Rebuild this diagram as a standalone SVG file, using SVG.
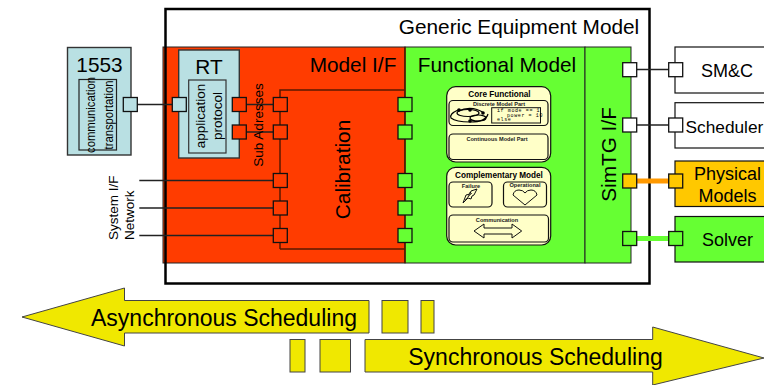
<svg xmlns="http://www.w3.org/2000/svg" width="764" height="385" viewBox="0 0 764 385">
<style>
text{font-family:"Liberation Sans",Arial,sans-serif;fill:#000;text-anchor:middle}
.t23{font-size:23px}.t21{font-size:20.800px}.t18{font-size:18px}.t13{font-size:13.500px}
.b{stroke:#111;stroke-width:1.2}
.blue{fill:#b9e0e3;stroke:#333;stroke-width:1.4}
.red{fill:#ff3c00}.grn{fill:#66ff33}.org{fill:#ffc800}.wht{fill:#fff}
.port{stroke:#111;stroke-width:1.3;width:14px;height:14px}
.link{fill:none;stroke:#222;stroke-width:1.3}
.dk{fill:none;stroke:#5a1800;stroke-width:1.5}
.yel{fill:#f0e800;stroke:#444;stroke-width:1}
.cream{fill:#ffffc8;stroke:#111;stroke-width:1.2}
.icon{fill:#ffffc8;stroke:#111;stroke-width:1}
.head{font-size:8.200px;font-weight:bold}
.tiny{font-size:5.600px;font-weight:bold;fill:#222}
.code{font-family:"Liberation Mono",monospace;font-size:5px;letter-spacing:.6px;text-anchor:start}
</style>
<g id="model-if"><rect x="163" y="47" width="242" height="216" class="red" stroke="#222" stroke-width="1"/><text x="353" y="72" class="t21">Model I/F</text></g>
<g id="functional-model"><rect x="405" y="47" width="180" height="216" class="grn" stroke="#222" stroke-width="1"/><text x="497" y="72" class="t21">Functional Model</text></g>
<g id="simtg-if"><rect x="585" y="47" width="46" height="216" class="grn" stroke="#222" stroke-width="1"/><text transform="translate(616 154.500) rotate(-90)" class="t21">SimTG I/F</text></g>
<g id="generic-equipment-model"><rect x="165.500" y="9" width="484" height="274.500" fill="none" stroke="#000" stroke-width="2.500"/><text x="519" y="34" class="t21">Generic Equipment Model</text></g>
<g id="bus-1553"><rect x="67.500" y="47.500" width="63.500" height="107.500" class="blue"/><text x="99.500" y="72" class="t21">1553</text><rect x="79" y="79.500" width="37.500" height="70.500" fill="none" stroke="#222" stroke-width="1.200"/><text transform="translate(95 115) rotate(-90)" font-size="13" textLength="76" lengthAdjust="spacingAndGlyphs">communication</text><text transform="translate(112.700 115) rotate(-90)" font-size="13" textLength="69" lengthAdjust="spacingAndGlyphs">transportation</text></g>
<g id="rt"><rect x="178.700" y="50" width="60.600" height="108" class="blue"/><text x="209" y="74" class="t21">RT</text><rect x="188.700" y="80" width="37.300" height="73" fill="none" stroke="#333" stroke-width="1.200"/><text transform="translate(205 116) rotate(-90)" class="t13">application</text><text transform="translate(221.700 116) rotate(-90)" class="t13">protocol</text></g>
<g id="connectors">
<path class="link" d="M137 104.500H172M246 104.500H273M246 132H273M139.300 180.500H273M139.300 208H273M139.300 235.500H273M637 69.500H669M637 125H669"/>
<path class="dk" d="M280 249V90H405M280 249H405M405 47V263"/>
<path fill="none" stroke="#ff9900" stroke-width="5" d="M637 181H669"/>
<path fill="none" stroke="#66ff33" stroke-width="5" d="M637 238.500H669"/>
</g>
<g id="sub-adresses"><text transform="translate(263 125) rotate(-90)" class="t13">Sub Adresses</text></g>
<g id="calibration"><text transform="translate(350 169.500) rotate(-90)" class="t21">Calibration</text></g>
<g id="system-if-network"><text transform="translate(118 240) rotate(-90)" class="t13" style="text-anchor:start">System I/F</text><text transform="translate(134 240) rotate(-90)" class="t13" style="text-anchor:start">Network</text></g>
<g id="core-functional">
<rect x="446.700" y="86.700" width="104" height="75.300" rx="9" class="cream" stroke-width="1.500"/>
<text x="499.500" y="96.700" class="head">Core Functional</text>
<rect x="449" y="100.500" width="99" height="25" rx="4" class="cream"/>
<text x="499" y="106" class="tiny">Discrete Model Part</text>
<g fill="none" stroke="#000" stroke-width="1.200"><path d="M458 110Q449 114 451 118Q456 122 470 122Q486 122 488 114"/><ellipse cx="468" cy="113" rx="11" ry="3.500"/><ellipse cx="478" cy="118" rx="8" ry="3"/><path d="M458 111Q472 105 484 113"/></g>
<circle cx="459" cy="110" r="1.800"/><circle cx="470" cy="110" r="1.800"/><circle cx="483" cy="113" r="1.800"/><circle cx="470" cy="121" r="1.800"/>
<rect x="491.700" y="107.700" width="48.800" height="15.300" fill="#ffffc8" stroke="#111"/>
<text x="497" y="112" class="code">if mode == 1</text><text x="507" y="116.500" class="code">power = 10</text><text x="497" y="121" class="code">else</text>
<rect x="449" y="134" width="99" height="25.500" rx="4" class="cream"/>
<text x="497" y="140.700" class="tiny">Continuous Model Part</text>
</g>
<g id="complementary-model">
<rect x="446.700" y="167.300" width="104" height="77.700" rx="9" class="cream" stroke-width="1.500"/>
<text x="499" y="178" class="head">Complementary Model</text>
<rect x="449" y="182" width="43" height="25" rx="4" class="cream"/>
<text x="471" y="187.700" class="tiny">Failure</text>
<path class="icon" d="M463 203L466 195L470 194L471 191L477 189L474 195L472 196L471 199L468 198Z"/>
<path d="M465 200L472 193M468 197L470 192" stroke="#111" stroke-width=".7" fill="none"/>
<rect x="503.500" y="182" width="43" height="25" rx="4" class="cream"/>
<text x="525" y="187" class="tiny">Operational</text>
<path class="icon" d="M525 205L513 195Q514 190 519 190Q523 190 525 193Q527 190 531 190Q536 190 537 195Z"/>
<rect x="449" y="215" width="99.500" height="27" rx="4" class="cream"/>
<text x="497" y="221.700" class="tiny">Communication</text>
<path class="icon" d="M474 231L484 224V228H512V224L521.700 231L512 238V234H484V238Z"/>
</g>
<g id="smc"><rect x="675" y="47" width="100" height="46" fill="#fff" stroke="#111" stroke-width="1.200"/><text x="727" y="76.700" class="t18">SM&amp;C</text></g>
<g id="scheduler"><rect x="675" y="102.700" width="100" height="45.300" fill="#fff" stroke="#111" stroke-width="1.200"/><text x="685.500" y="132.700" font-size="17.300" style="text-anchor:start">Scheduler</text></g>
<g id="physical-models"><rect x="675" y="161" width="100" height="45.500" class="org" stroke="#111" stroke-width="1.200"/><text x="727.500" y="180" class="t18">Physical</text><text x="727.500" y="201.700" class="t18">Models</text></g>
<g id="solver"><rect x="675" y="216.500" width="100" height="45.500" class="grn" stroke="#111" stroke-width="1.200"/><text x="727.500" y="245.700" class="t18">Solver</text></g>
<g id="ports">
<rect x="123.300" y="97.500" class="port" fill="#b9e0e3"/><rect x="172.300" y="97.500" class="port" fill="#b9e0e3"/>
<rect x="232.300" y="97.500" class="port red"/><rect x="232.300" y="125" class="port red"/>
<rect x="273.300" y="97.500" class="port red"/><rect x="273.300" y="125" class="port red"/>
<rect x="273.300" y="173.500" class="port red"/><rect x="273.300" y="201" class="port red"/><rect x="273.300" y="228.500" class="port red"/>
<rect x="398" y="97.500" class="port grn"/><rect x="398" y="125" class="port grn"/><rect x="398" y="173.500" class="port grn"/><rect x="398" y="201" class="port grn"/><rect x="398" y="228.500" class="port grn"/>
<rect x="622.700" y="62.700" class="port wht"/><rect x="622.700" y="118" class="port wht"/><rect x="622.700" y="174" class="port org"/><rect x="622.700" y="231.500" class="port grn"/>
<rect x="668.700" y="62.700" class="port wht"/><rect x="668.700" y="118" class="port wht"/><rect x="668.700" y="174" class="port org"/><rect x="668.700" y="231.500" class="port grn"/>
</g>
<g id="asynchronous-scheduling">
<path class="yel" d="M22 317L124.500 288V300.500H369V333H124.500V346Z"/>
<rect x="382" y="300.500" width="26" height="32.500" class="yel"/><rect x="421" y="300.500" width="13" height="32.500" class="yel"/>
<text x="224" y="326" class="t23">Asynchronous Scheduling</text>
</g>
<g id="synchronous-scheduling">
<rect x="290" y="339.500" width="15" height="32.500" class="yel"/><rect x="320" y="339.500" width="30.500" height="32.500" class="yel"/>
<path class="yel" d="M365 339.500H652.700V327L764 358L652.700 385V372H365Z"/>
<text x="535.500" y="365" class="t23">Synchronous Scheduling</text>
</g>
</svg>
